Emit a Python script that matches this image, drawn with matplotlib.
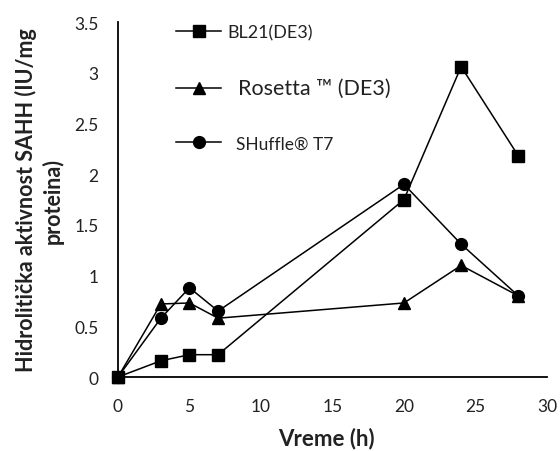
import matplotlib
matplotlib.use("Agg")
import matplotlib.pyplot as plt

plt.rcParams['font.family'] = ['Lato', 'DejaVu Sans']

hours = [0, 3, 5, 7, 20, 24, 28]
bl21 = [0, 0.16, 0.22, 0.22, 1.75, 3.06, 2.18]
rosetta = [0, 0.72, 0.73, 0.58, 0.73, 1.10, 0.80]
shuffle = [0, 0.58, 0.88, 0.65, 1.90, 1.31, 0.80]

labels = ["BL21(DE3)", "  Rosetta \u2122 (DE3)", "  SHuffle\u00ae T7"]
x_ticks = [0, 5, 10, 15, 20, 25, 30]
y_ticks = [0, 0.5, 1, 1.5, 2, 2.5, 3, 3.5]
y_tick_labels = ["0", "0.5", "1", "1.5", "2", "2.5", "3", "3.5"]

fig = plt.figure(figsize=(5.6, 4.52), dpi=100)
ax = fig.add_axes([0.2107, 0.1637, 0.766, 0.7854])

common = dict(color='black', linewidth=1.1, clip_on=False)
ax.plot(hours, bl21, marker='s', markersize=8.5, label=labels[0], **common)
ax.plot(hours, rosetta, marker='^', markersize=8.5, label=labels[1], **common)
ax.plot(hours, shuffle, marker='o', markersize=8.5, label=labels[2], **common)

ax.set_xlim(0, 30)
ax.set_ylim(0, 3.5)
ax.set_xticks(x_ticks)
ax.set_yticks(y_ticks)
ax.set_yticklabels(y_tick_labels)
ax.tick_params(length=0, labelsize=12.5, colors='#222222')
ax.tick_params(axis='y', pad=14)
ax.tick_params(axis='x', pad=15)

for side in ('top', 'right'):
    ax.spines[side].set_visible(False)
for side in ('left', 'bottom'):
    ax.spines[side].set_linewidth(1.3)

ax.set_xlabel("Vreme (h)", fontsize=16, fontweight='bold', color='#222222')
ax.xaxis.set_label_coords(0.486, -0.17)
ax.xaxis.label.set_va('center')
ax.set_ylabel("Hidrolitička aktivnost SAHH (IU/mg\nproteina)", fontsize=15.5,
              fontweight='bold', linespacing=1.25, multialignment='center',
              va='center', ha='center', color='#222222')
ax.yaxis.set_label_coords(-0.184, 0.5)

leg = ax.legend(loc='upper left', bbox_to_anchor=(0.119, 1.014), frameon=False,
                fontsize=13, labelspacing=2.08, handlelength=2.5, handletextpad=0.33,
                borderaxespad=0)
sizes = [13, 15.5, 12.5]
for t, s in zip(leg.get_texts(), sizes):
    t.set_fontsize(s)
    t.set_color('#222222')

fig.savefig("out.png", dpi=100)
